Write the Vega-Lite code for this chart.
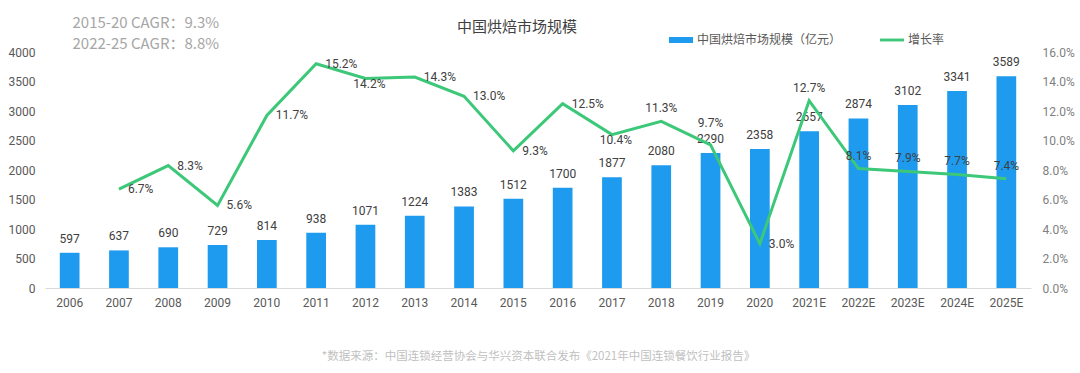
{
  "$schema": "https://vega.github.io/schema/vega-lite/v6.json",
  "autosize": "none",
  "width": 986,
  "height": 236,
  "padding": {"left": 45, "top": 52, "right": 49, "bottom": 85},
  "background": "white",
  "config": {"view": {"stroke": null}, "font": "Noto Sans CJK SC"},
  "title": {"text": "中国烘焙市场规模", "font": "Noto Sans CJK SC", "fontSize": 15, "fontWeight": "normal", "color": "#404040", "dx": -21, "offset": -20},
  "data": {"values": [
    {"year": "2006", "size": 597, "rate": null},
    {"year": "2007", "size": 637, "rate": 0.067},
    {"year": "2008", "size": 690, "rate": 0.083},
    {"year": "2009", "size": 729, "rate": 0.056},
    {"year": "2010", "size": 814, "rate": 0.117},
    {"year": "2011", "size": 938, "rate": 0.152},
    {"year": "2012", "size": 1071, "rate": 0.142},
    {"year": "2013", "size": 1224, "rate": 0.143},
    {"year": "2014", "size": 1383, "rate": 0.130},
    {"year": "2015", "size": 1512, "rate": 0.093},
    {"year": "2016", "size": 1700, "rate": 0.125},
    {"year": "2017", "size": 1877, "rate": 0.104},
    {"year": "2018", "size": 2080, "rate": 0.113},
    {"year": "2019", "size": 2290, "rate": 0.097},
    {"year": "2020", "size": 2358, "rate": 0.030},
    {"year": "2021E", "size": 2657, "rate": 0.127},
    {"year": "2022E", "size": 2874, "rate": 0.081},
    {"year": "2023E", "size": 3102, "rate": 0.079},
    {"year": "2024E", "size": 3341, "rate": 0.077},
    {"year": "2025E", "size": 3589, "rate": 0.074}
  ]},
  "encoding": {
    "x": {"field": "year", "type": "ordinal", "sort": null,
      "scale": {"type": "band", "paddingInner": 0.6, "paddingOuter": 0.3},
      "axis": {"labelAngle": 0, "labelFont": "Roboto", "labelFontSize": 12, "labelColor": "#595959", "labelPadding": 9,
        "ticks": false, "domainColor": "#d9d9d9", "domainWidth": 1,
        "title": "*数据来源：中国连锁经营协会与华兴资本联合发布《2021年中国连锁餐饮行业报告》",
        "titleFont": "Noto Sans CJK SC", "titleFontSize": 11.5, "titleFontWeight": "normal", "titleColor": "#bfbfbf", "titlePadding": 42}}
  },
  "layer": [
    {
      "encoding": {
        "y": {"field": "size", "type": "quantitative", "scale": {"domain": [0, 4000], "nice": false},
          "axis": {"values": [0, 500, 1000, 1500, 2000, 2500, 3000, 3500, 4000], "format": "d", "grid": false, "domain": false, "ticks": false,
            "labelFont": "Roboto", "labelFontSize": 12, "labelColor": "#595959", "labelPadding": 10,
            "title": ["2015-20 CAGR：9.3%", "2022-25 CAGR：8.8%"], "titleAngle": 0, "titleAlign": "left", "titleBaseline": "alphabetic",
            "titleX": 27, "titleY": -25, "titleFont": "Noto Sans CJK SC", "titleFontSize": 15, "titleFontWeight": "normal",
            "titleColor": "#a6a6a6", "titleLineHeight": 21}}
      },
      "layer": [
        {"mark": {"type": "bar"},
         "encoding": {"color": {"datum": "中国烘焙市场规模（亿元）",
           "scale": {"domain": ["中国烘焙市场规模（亿元）", "增长率"], "range": ["#1E9BEF", "#3CC878"]},
           "legend": {"orient": "none", "legendX": 624, "legendY": -24, "direction": "horizontal", "title": null,
             "symbolType": "M-1,-0.25H1V0.25H-1Z", "symbolSize": 576, "symbolStrokeWidth": 0,
             "labelFont": "Noto Sans CJK SC", "labelFontSize": 12, "labelColor": "#595959", "labelOffset": 4,
             "columnPadding": 38, "padding": 0,
             "encode": {"symbols": {"update": {
               "shape": {"signal": "datum.value === '增长率' ? 'M-1,-0.12H1V0.12H-1Z' : 'M-1,-0.25H1V0.25H-1Z'"},
               "fill": {"signal": "datum.value === '增长率' ? '#3CC878' : '#1E9BEF'"},
               "strokeWidth": {"value": 0}}}}}}}},
        {"mark": {"type": "text", "baseline": "bottom", "dy": -7, "font": "Roboto", "fontSize": 12, "color": "#404040"},
         "encoding": {"text": {"field": "size", "type": "quantitative"}}}
      ]
    },
    {
      "transform": [{"filter": "datum.rate != null"}],
      "encoding": {
        "y": {"field": "rate", "type": "quantitative", "scale": {"domain": [0, 0.16], "nice": false},
          "axis": {"orient": "right", "values": [0, 0.02, 0.04, 0.06, 0.08, 0.10, 0.12, 0.14, 0.16], "format": ".1%",
            "grid": false, "domain": false, "ticks": false, "labelFont": "Roboto", "labelFontSize": 12, "labelColor": "#7f7f7f",
            "labelPadding": 11, "title": null}}
      },
      "layer": [
        {"mark": {"type": "line", "strokeWidth": 3},
         "encoding": {"color": {"datum": "增长率"}}},
        {"transform": [{"filter": {"field": "year", "oneOf": ["2007", "2008", "2009", "2010", "2011", "2013", "2014", "2015", "2016", "2020"]}}],
         "mark": {"type": "text", "align": "left", "baseline": "middle", "dx": 9, "font": "Roboto", "fontSize": 12, "color": "#404040"},
         "encoding": {"text": {"field": "rate", "type": "quantitative", "format": ".1%"}}},
        {"transform": [{"filter": {"field": "year", "oneOf": ["2018", "2021E", "2022E", "2023E", "2024E", "2025E"]}}],
         "mark": {"type": "text", "align": "center", "baseline": "bottom", "dy": -6, "font": "Roboto", "fontSize": 12, "color": "#404040"},
         "encoding": {"text": {"field": "rate", "type": "quantitative", "format": ".1%"}}},
        {"transform": [{"filter": {"field": "year", "oneOf": ["2019"]}}],
         "mark": {"type": "text", "align": "center", "baseline": "bottom", "dy": -15, "font": "Roboto", "fontSize": 12, "color": "#404040"},
         "encoding": {"text": {"field": "rate", "type": "quantitative", "format": ".1%"}}},
        {"transform": [{"filter": {"field": "year", "oneOf": ["2012", "2017"]}}],
         "mark": {"type": "text", "align": "center", "baseline": "top", "dy": 0, "dx": 4, "font": "Roboto", "fontSize": 12, "color": "#404040"},
         "encoding": {"text": {"field": "rate", "type": "quantitative", "format": ".1%"}}}
      ]
    }
  ],
  "resolve": {"scale": {"y": "independent"}}
}
